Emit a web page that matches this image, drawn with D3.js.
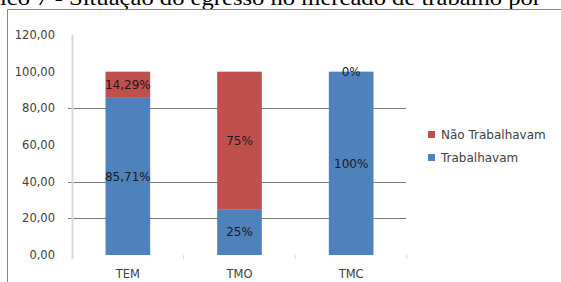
<!DOCTYPE html>
<html>
<head>
<meta charset="utf-8">
<script src="https://cdn.jsdelivr.net/npm/d3@7"></script>
<style>
  body { margin: 0; background: #fff; }
  svg { display: block; }
</style>
</head>
<body>
<div id="chart"></div>
<script>
/** Chart data */
var categories = ["TEM", "TMO", "TMC"];
var trabalhavam = [85.71, 25, 100];
var naoTrabalhavam = [14.29, 75, 0];
var trabalhavamLabels = ["85,71%", "25%", "100%"];
var naoTrabalhavamLabels = ["14,29%", "75%", "0%"];
var yTicks = [0, 20, 40, 60, 80, 100, 120];
/** only these grid lines survived in the scanned picture */
var gridValues = [20, 40, 80];
var seriesNames = ["Não Trabalhavam", "Trabalhavam"];
var titleText = "ico 7 - Situação do egresso no mercado de trabalho por";

var width = 561, height = 282;
var colors = { trab: "#4F81BD", nao: "#C0504D" };
var font = "'DejaVu Sans', sans-serif";

var svg = d3.select("#chart")
  .append("svg")
  .attr("width", width)
  .attr("height", height);

svg.append("rect").attr("width", width).attr("height", height).attr("fill", "#fff");

/** Caption from the document, cut by the top of the picture */
svg.append("text")
  .attr("x", 0)
  .attr("y", 4.5)
  .attr("textLength", 541)
  .attr("lengthAdjust", "spacingAndGlyphs")
  .style("font-family", "'Liberation Serif', serif")
  .style("font-size", "21px")
  .attr("fill", "#000")
  .text(titleText);

/** Chart frame (only left and top edges visible) */
svg.append("path")
  .attr("d", "M7.5," + height + "V9.5H" + width)
  .attr("fill", "none")
  .attr("stroke", "#868686")
  .attr("stroke-width", 1);

var x = d3.scaleBand().domain(categories).range([72, 407]);
var y = d3.scaleLinear().domain([0, 120]).range([255, 35]);
var barWidth = x.bandwidth() * 0.4;

/** Grid lines */
svg.append("g").selectAll("line")
  .data(gridValues)
  .enter().append("line")
    .attr("x1", 68)
    .attr("x2", 406)
    .attr("y1", function(d) { return Math.round(y(d)) + 0.5; })
    .attr("y2", function(d) { return Math.round(y(d)) + 0.5; })
    .attr("stroke", "#7a7a7a")
    .attr("stroke-width", 1.2);

/** Y axis line */
svg.append("line")
  .attr("x1", 72.5).attr("x2", 72.5)
  .attr("y1", y(120)).attr("y2", 259)
  .attr("stroke", "#d9d9d9")
  .attr("stroke-width", 2);

/** Y tick labels */
svg.append("g").selectAll("text")
  .data(yTicks)
  .enter().append("text")
    .attr("x", 55)
    .attr("y", function(d) { return y(d); })
    .attr("dy", "0.35em")
    .attr("text-anchor", "end")
    .style("font-family", font)
    .style("font-size", "11.5px")
    .attr("fill", "#404040")
    .text(function(d) { return d3.format(".2f")(d).replace(".", ","); });

/** X category boundary ticks */
svg.append("g").selectAll("line")
  .data(categories)
  .enter().append("line")
    .attr("x1", function(d) { return x(d) + x.bandwidth(); })
    .attr("x2", function(d) { return x(d) + x.bandwidth(); })
    .attr("y1", 255)
    .attr("y2", 259)
    .attr("stroke", "#d9d9d9")
    .attr("stroke-width", 1);

/** X labels */
svg.append("g").selectAll("text")
  .data(categories)
  .enter().append("text")
    .attr("x", function(d) { return x(d) + x.bandwidth() / 2; })
    .attr("y", 274)
    .attr("dy", "0.35em")
    .attr("text-anchor", "middle")
    .style("font-family", font)
    .style("font-size", "11.5px")
    .attr("fill", "#404040")
    .text(function(d) { return d; });

/** Stacked bars */
var table = categories.map(function(c, i) {
  return { cat: c, trab: trabalhavam[i], nao: naoTrabalhavam[i], trabLabel: trabalhavamLabels[i], naoLabel: naoTrabalhavamLabels[i] };
});
var stacked = d3.stack().keys(["trab", "nao"])(table);

var layers = svg.append("g").selectAll("g")
  .data(stacked)
  .enter().append("g")
    .attr("fill", function(d) { return colors[d.key]; });

layers.selectAll("rect")
  .data(function(d) { return d; })
  .enter().append("rect")
    .attr("x", function(d) { return x(d.data.cat) + (x.bandwidth() - barWidth) / 2; })
    .attr("y", function(d) { return y(d[1]); })
    .attr("width", barWidth)
    .attr("height", function(d) { return y(d[0]) - y(d[1]); });

/** Data labels centred in each segment */
stacked.forEach(function(layer) {
  svg.append("g").selectAll("text")
    .data(layer)
    .enter().append("text")
      .attr("x", function(d) { return x(d.data.cat) + x.bandwidth() / 2; })
      .attr("y", function(d) { return (y(d[0]) + y(d[1])) / 2; })
      .attr("dy", "0.35em")
      .attr("text-anchor", "middle")
      .style("font-family", font)
      .style("font-size", "12px")
      .attr("fill", "#1a1a1a")
      .text(function(d) { return layer.key == "trab" ? d.data.trabLabel : d.data.naoLabel; });
});

/** Legend */
var legendColors = [colors.nao, colors.trab];
var legend = svg.append("g").selectAll("g")
  .data(seriesNames)
  .enter().append("g")
    .attr("transform", function(d, i) { return "translate(428," + (135 + i * 23) + ")"; });

legend.append("rect")
  .attr("x", 0).attr("y", -4)
  .attr("width", 7).attr("height", 7)
  .attr("fill", function(d, i) { return legendColors[i]; });

legend.append("text")
  .attr("x", 13)
  .attr("y", 0)
  .attr("dy", "0.35em")
  .style("font-family", font)
  .style("font-size", "12px")
  .attr("fill", "#404040")
  .text(function(d) { return d; });
</script>
</body>
</html>
